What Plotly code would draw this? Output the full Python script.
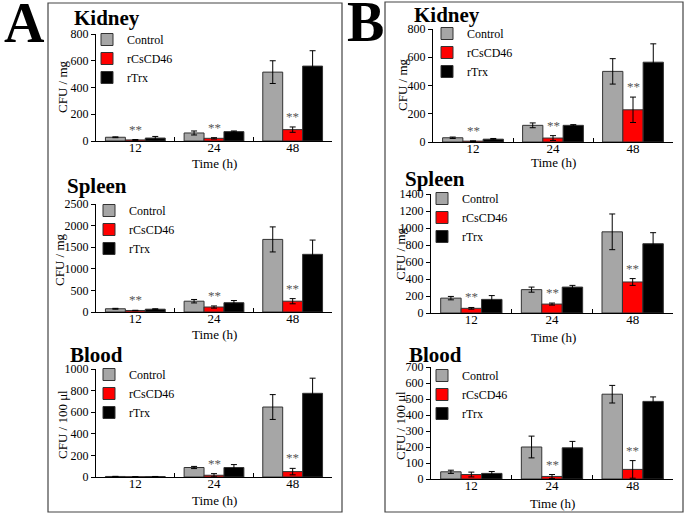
import plotly.graph_objects as go

W, H = 685, 515

# ---------------- data ----------------
times = ["12", "24", "48"]
series_names = ["Control", "rCsCD46", "rTrx"]
series_colors = ["#a6a6a6", "#ff0000", "#000000"]

# Panel A
a_kidney_control = [28, 60, 515]
a_kidney_control_err = [3, 15, 85]
a_kidney_cd46 = [8, 20, 85]
a_kidney_cd46_err = [3, 5, 20]
a_kidney_trx = [22, 70, 560]
a_kidney_trx_err = [12, 5, 115]
a_kidney_stars = ["12", "24", "48"]

a_spleen_control = [75, 250, 1680]
a_spleen_control_err = [10, 40, 290]
a_spleen_cd46 = [35, 115, 250]
a_spleen_cd46_err = [5, 25, 60]
a_spleen_trx = [65, 215, 1335]
a_spleen_trx_err = [10, 50, 330]
a_spleen_stars = ["12", "24", "48"]

a_blood_control = [5, 88, 648]
a_blood_control_err = [1, 10, 115]
a_blood_cd46 = [2, 16, 50]
a_blood_cd46_err = [1, 15, 30]
a_blood_trx = [4, 88, 775]
a_blood_trx_err = [1, 27, 140]
a_blood_stars = ["24", "48"]

# Panel B
b_kidney_control = [30, 118, 500]
b_kidney_control_err = [5, 17, 90]
b_kidney_cd46 = [6, 28, 228]
b_kidney_cd46_err = [2, 17, 90]
b_kidney_trx = [20, 118, 565]
b_kidney_trx_err = [5, 5, 130]
b_kidney_stars = ["12", "24", "48"]

b_spleen_control = [175, 275, 955]
b_spleen_control_err = [20, 30, 210]
b_spleen_cd46 = [55, 105, 365]
b_spleen_cd46_err = [10, 12, 40]
b_spleen_trx = [160, 305, 815]
b_spleen_trx_err = [45, 20, 130]
b_spleen_stars = ["12", "24", "48"]

b_blood_control = [45, 200, 530]
b_blood_control_err = [10, 68, 55]
b_blood_cd46 = [28, 16, 60]
b_blood_cd46_err = [15, 12, 55]
b_blood_trx = [35, 195, 485]
b_blood_trx_err = [12, 40, 28]
b_blood_stars = ["24", "48"]

SERIF = "Liberation Serif, Times New Roman, serif"


def px_x(p):
    return p / W


def px_y(p):
    return 1 - p / H


# subplot layout (pixel geometry)
panels = [
    dict(title="Kidney", ytitle="CFU / mg", ymax=800, dtick=200,
         vals=[a_kidney_control, a_kidney_cd46, a_kidney_trx],
         errs=[a_kidney_control_err, a_kidney_cd46_err, a_kidney_trx_err],
         stars=a_kidney_stars,
         x0=96, x1=332, ytop=34, ybot=141,
         title_xy=(72, 18), ytitle_xy=(62, 87), xtitle_xy=(214, 163), leg_xy=(107, 35)),
    dict(title="Spleen", ytitle="CFU / mg", ymax=2500, dtick=500,
         vals=[a_spleen_control, a_spleen_cd46, a_spleen_trx],
         errs=[a_spleen_control_err, a_spleen_cd46_err, a_spleen_trx_err],
         stars=a_spleen_stars,
         x0=96, x1=332, ytop=204, ybot=312,
         title_xy=(65, 186), ytitle_xy=(59, 260), xtitle_xy=(214, 334), leg_xy=(109, 206)),
    dict(title="Blood", ytitle="CFU / 100 μl", ymax=1000, dtick=200,
         vals=[a_blood_control, a_blood_cd46, a_blood_trx],
         errs=[a_blood_control_err, a_blood_cd46_err, a_blood_trx_err],
         stars=a_blood_stars,
         x0=96, x1=332, ytop=369, ybot=477,
         title_xy=(68, 355), ytitle_xy=(62, 425), xtitle_xy=(214, 500), leg_xy=(109, 370)),
    dict(title="Kidney", ytitle="CFU / mg", ymax=800, dtick=200,
         vals=[b_kidney_control, b_kidney_cd46, b_kidney_trx],
         errs=[b_kidney_control_err, b_kidney_cd46_err, b_kidney_trx_err],
         stars=b_kidney_stars,
         x0=433, x1=673, ytop=29, ybot=142,
         title_xy=(412, 15), ytitle_xy=(402, 85), xtitle_xy=(553, 162), leg_xy=(447, 29)),
    dict(title="Spleen", ytitle="CFU / mg", ymax=1400, dtick=200,
         vals=[b_spleen_control, b_spleen_cd46, b_spleen_trx],
         errs=[b_spleen_control_err, b_spleen_cd46_err, b_spleen_trx_err],
         stars=b_spleen_stars,
         x0=431, x1=673, ytop=194, ybot=313,
         title_xy=(403, 179), ytitle_xy=(400, 253), xtitle_xy=(553, 337), leg_xy=(442, 194)),
    dict(title="Blood", ytitle="CFU / 100 μl", ymax=700, dtick=100,
         vals=[b_blood_control, b_blood_cd46, b_blood_trx],
         errs=[b_blood_control_err, b_blood_cd46_err, b_blood_trx_err],
         stars=b_blood_stars,
         x0=431, x1=673, ytop=367, ybot=479,
         title_xy=(407, 355), ytitle_xy=(400, 425), xtitle_xy=(552, 503), leg_xy=(442, 371)),
]

fig = go.Figure()
layout = dict(
    template="none",
    width=W, height=H,
    margin=dict(l=0, r=0, t=0, b=0, pad=0, autoexpand=False),
    paper_bgcolor="white", plot_bgcolor="white",
    barmode="group", bargap=0.24, bargroupgap=0,
    font=dict(family=SERIF, size=12, color="black"),
    annotations=[], shapes=[],
)

for i, p in enumerate(panels):
    n = i + 1
    xa = "x" if n == 1 else f"x{n}"
    ya = "y" if n == 1 else f"y{n}"
    leg = "legend" if n == 1 else f"legend{n}"
    for name, col, v, e in zip(series_names, series_colors, p["vals"], p["errs"]):
        fig.add_trace(go.Bar(
            x=times, y=v, name=name, xaxis=xa, yaxis=ya, legend=leg,
            marker=dict(color=col, line=dict(color="#333333", width=1)),
            error_y=dict(type="data", array=e, visible=True, color="black",
                         thickness=1, width=3),
        ))
    # axes
    layout["xaxis" if n == 1 else f"xaxis{n}"] = dict(
        domain=[px_x(p["x0"]), px_x(p["x1"])], anchor=ya, automargin=False,
        type="category", categoryorder="array", categoryarray=times,
        range=[-0.5, len(times) - 0.5],
        showline=True, linecolor="black", linewidth=1,
        ticks="inside", tickson="boundaries", ticklen=4, tickcolor="black",
        ticklabelstandoff=-6,
        tickfont=dict(size=13, family=SERIF), showgrid=False, zeroline=False,
        fixedrange=True,
    )
    layout["yaxis" if n == 1 else f"yaxis{n}"] = dict(
        domain=[px_y(p["ybot"]), px_y(p["ytop"])], anchor=xa, automargin=False,
        range=[0, p["ymax"]], dtick=p["dtick"], tick0=0,
        showline=True, linecolor="black", linewidth=1,
        ticks="outside", ticklen=4, tickcolor="black",
        tickfont=dict(size=12, family=SERIF), showgrid=False, zeroline=False,
        fixedrange=True,
    )
    layout[leg] = dict(
        x=px_x(p["leg_xy"][0] - 20), y=px_y(p["leg_xy"][1] - 10),
        xanchor="left", yanchor="top", bgcolor="rgba(0,0,0,0)",
        font=dict(size=12, family=SERIF), tracegroupgap=0,
    )
    # titles
    layout["annotations"].append(dict(
        text=f"<b>{p['title']}</b>", x=px_x(p["title_xy"][0]), y=px_y(p["title_xy"][1]),
        xref="paper", yref="paper", xanchor="left", yanchor="middle",
        showarrow=False, font=dict(size=21, family=SERIF)))
    layout["annotations"].append(dict(
        text=p["ytitle"], x=px_x(p["ytitle_xy"][0]), y=px_y(p["ytitle_xy"][1]),
        xref="paper", yref="paper", xanchor="center", yanchor="middle", textangle=-90,
        showarrow=False, font=dict(size=13, family=SERIF)))
    layout["annotations"].append(dict(
        text="Time (h)", x=px_x(p["xtitle_xy"][0]), y=px_y(p["xtitle_xy"][1]),
        xref="paper", yref="paper", xanchor="center", yanchor="middle",
        showarrow=False, font=dict(size=13, family=SERIF)))
    # significance stars above rCsCD46 bars (category index positions)
    cd46 = p["vals"][1]
    cd46e = p["errs"][1]
    for t in p["stars"]:
        k = times.index(t)
        layout["annotations"].append(dict(
            text="**", x=k, y=cd46[k] + cd46e[k], xref=xa, yref=ya,
            xanchor="center", yanchor="bottom", yshift=1, showarrow=False,
            font=dict(size=13, family=SERIF, color="#555555")))

# panel letters
layout["annotations"].append(dict(text="<b>A</b>", x=px_x(25), y=px_y(23), xref="paper", yref="paper",
                                  xanchor="center", yanchor="middle", showarrow=False,
                                  font=dict(size=56, family=SERIF)))
layout["annotations"].append(dict(text="<b>B</b>", x=px_x(365), y=px_y(22), xref="paper", yref="paper",
                                  xanchor="center", yanchor="middle", showarrow=False,
                                  font=dict(size=56, family=SERIF)))
# panel frames
for (bx0, by0, bx1, by1) in [(48, 3, 342, 512), (385, 2, 683, 512)]:
    layout["shapes"].append(dict(type="rect", xref="paper", yref="paper",
                                 x0=px_x(bx0), x1=px_x(bx1), y0=px_y(by1), y1=px_y(by0),
                                 line=dict(color="#444444", width=1.2)))

fig.update_layout(**layout)
fig.write_html(
    "out.html",
    config={"displayModeBar": False, "staticPlot": True},
    post_script="document.body.style.margin='0';document.body.style.overflow='hidden';",
)
